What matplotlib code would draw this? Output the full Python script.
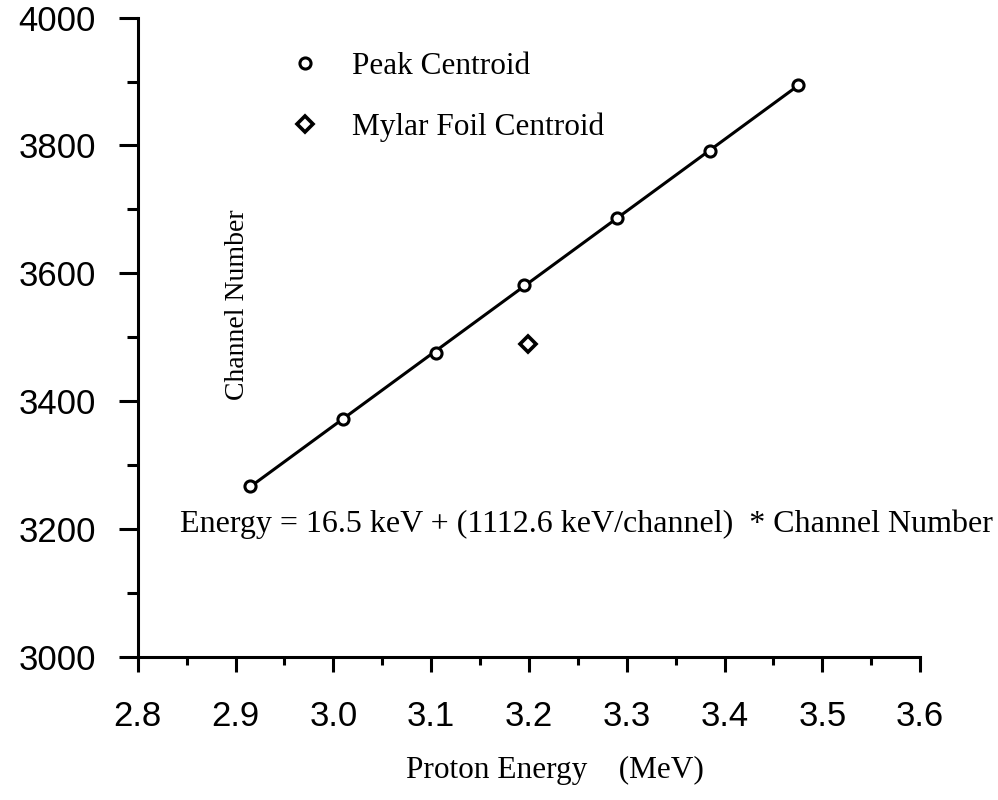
import numpy as np
import matplotlib.pyplot as plt
from matplotlib.ticker import MultipleLocator

# proton energy (MeV) vs. channel number of the peak centroid
energy = [2.915, 3.010, 3.105, 3.195, 3.290, 3.385, 3.475]
channel = [3267, 3372, 3476, 3582, 3687, 3791, 3894]

# mylar foil centroid
foil_energy = [3.199]
foil_channel = [3489]

xticks = [2.8, 2.9, 3.0, 3.1, 3.2, 3.3, 3.4, 3.5, 3.6]
xticklabels = ["2.8", "2.9", "3.0", "3.1", "3.2", "3.3", "3.4", "3.5", "3.6"]
yticks = [3000, 3200, 3400, 3600, 3800, 4000]

serif = "Liberation Serif"
sans = "Liberation Sans"

fig = plt.figure(figsize=(9.98, 8), dpi=100)
ax = fig.add_axes([0.138, 0.179, 0.784, 0.799])

# linear calibration through the peak centroids
p = np.polyfit(energy, channel, 1)
xfit = np.array([energy[0], energy[-1]])
ax.plot(xfit, np.polyval(p, xfit), color="black", lw=2.2, zorder=2)

ax.plot(energy, channel, "o", ms=8, mfc="white", mec="black", mew=2.2,
        zorder=3, label="Peak Centroid")
ax.plot(foil_energy, foil_channel, "D", ms=8, mfc="white", mec="black",
        mew=2.6, zorder=3, label="Mylar Foil Centroid")

ax.set_xlim(2.8, 3.6)
ax.set_ylim(3000, 4000)
ax.set_xticks(xticks)
ax.set_xticklabels(xticklabels)
ax.set_yticks(yticks)
ax.xaxis.set_minor_locator(MultipleLocator(0.05))
ax.yaxis.set_minor_locator(MultipleLocator(100))

for s in ["top", "right"]:
    ax.spines[s].set_visible(False)
for s in ["left", "bottom"]:
    ax.spines[s].set_linewidth(2.2)

ax.tick_params(which="major", direction="out", length=14, width=2.2)
ax.tick_params(which="minor", direction="out", length=8, width=2.2)
ax.tick_params(axis="x", which="major", length=11, pad=20)
ax.tick_params(axis="x", which="minor", length=6)
ax.tick_params(axis="y", which="major", pad=16)
for lab in ax.get_xticklabels() + ax.get_yticklabels():
    lab.set_fontfamily(sans)
    lab.set_fontsize(25)

ax.set_xlabel("Proton Energy    (MeV)", fontfamily=serif, fontsize=22.5,
              labelpad=14)
ax.xaxis.set_label_coords(0.533, -0.155)
ax.text(0.127, 0.551, "Channel Number", transform=ax.transAxes,
        rotation=90, ha="center", va="center", fontfamily=serif, fontsize=20)
ax.text(0.054, 0.207,
        "Energy = 16.5 keV + (1112.6 keV/channel)  * Channel Number",
        transform=ax.transAxes, ha="left", va="center",
        fontfamily=serif, fontsize=23)

ax.legend(loc="upper left", bbox_to_anchor=(0.158, 0.99), frameon=False,
          handlelength=1.0, handletextpad=1.0, labelspacing=1.0,
          prop={"family": serif, "size": 22.5})

fig.savefig("out.png", dpi=100)
